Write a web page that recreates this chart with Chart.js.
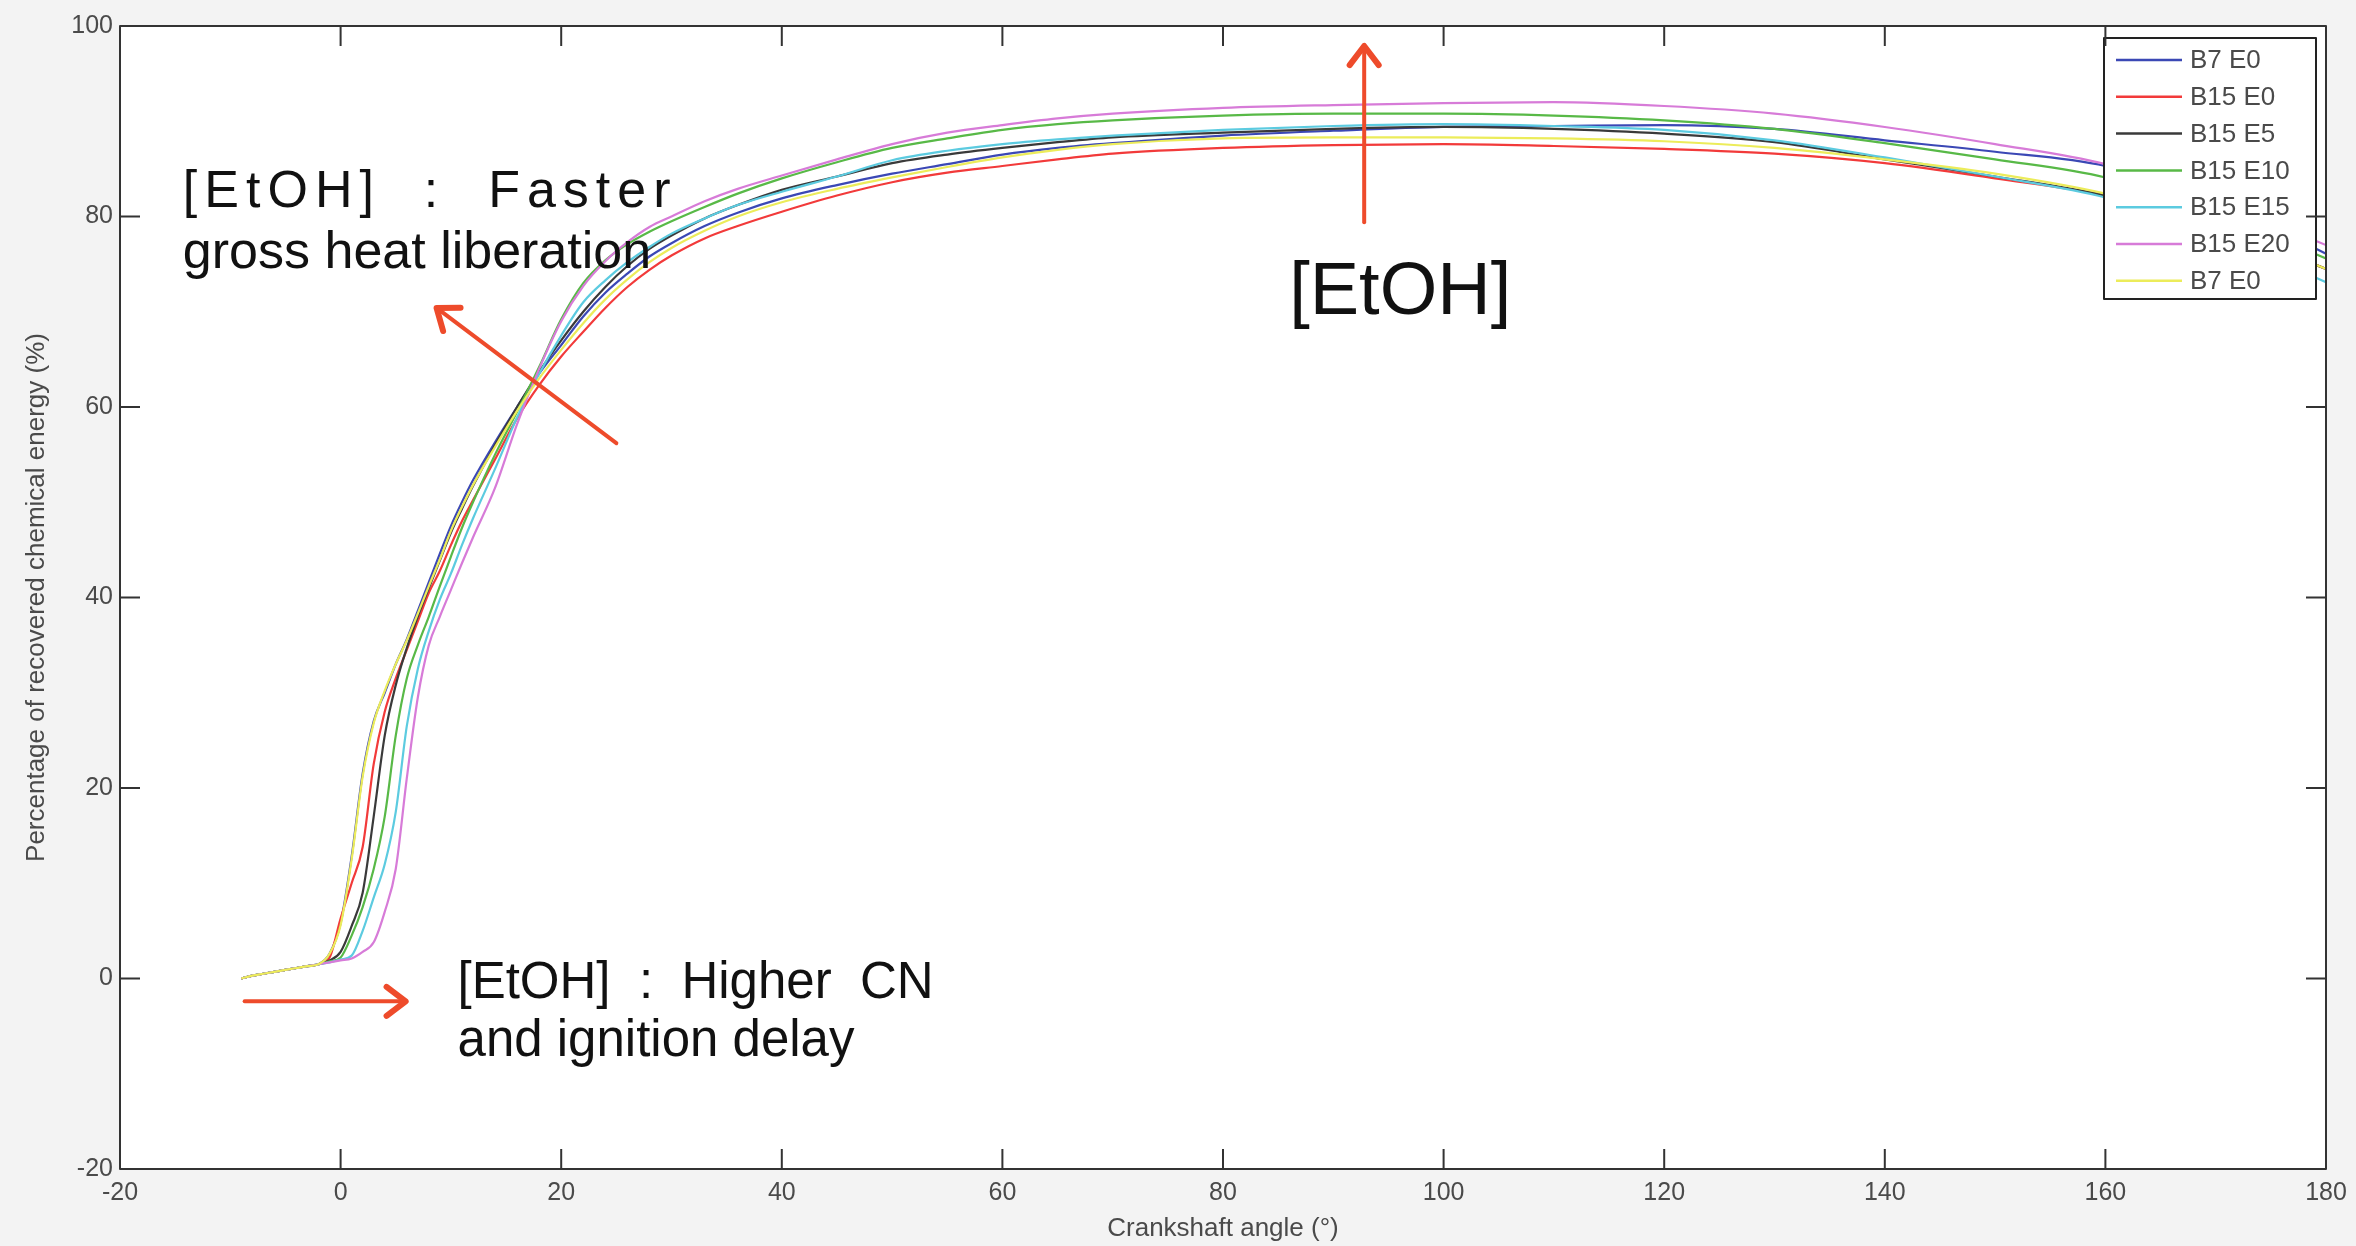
<!DOCTYPE html>
<html>
<head>
<meta charset="utf-8">
<script src="https://cdn.jsdelivr.net/npm/chart.js@4.4.1/dist/chart.umd.min.js"></script>
<style>
  html, body { margin: 0; padding: 0; background: #f3f3f3; }
  #wrap { width: 2356px; height: 1246px; position: relative; }
</style>
</head>
<body>
<div id="wrap"><canvas id="js--chart"></canvas></div>
<script>
// crank angle (deg) shared by all curves
const angles = [-9, -8, -7, -6, -5, -4, -3, -2, -1, 0, 1, 2, 3, 4, 5, 6, 7, 8, 9, 10, 11, 12,
    14, 16, 18, 20, 22, 24, 26, 28, 30,
    33, 36, 40, 45, 50, 55, 60, 65, 70,
    80, 90, 100, 110, 120, 130, 140, 150, 160, 170, 180];

const b7e0 = [0.0, 0.3, 0.5, 0.7, 0.9, 1.1, 1.3, 1.5,
    2.6, 5.8, 12.8, 21.5, 27.0, 30.0, 33.0, 35.6, 38.6, 41.6, 44.6, 47.5, 50.0, 52.3,
    56.3, 60.0, 63.5, 66.5, 69.5, 72.0, 74.0, 75.8, 77.2,
    79.0, 80.4, 81.9, 83.3, 84.5, 85.5, 86.5, 87.2, 87.7,
    88.5, 89.0, 89.4, 89.5, 89.6, 89.2, 88.0, 86.8, 85.3, 81.6, 76.1];

const b15e0 = [0.0, 0.3, 0.5, 0.7, 0.9, 1.1, 1.3, 1.5,
    2.2, 6.3, 10.0, 13.8, 22.5, 28.0, 31.5, 34.5, 37.5, 40.5, 42.8, 45.5, 48.0, 50.2,
    54.5, 58.8, 62.3, 65.3, 67.9, 70.4, 72.6, 74.4, 75.9,
    77.7, 79.0, 80.5, 82.2, 83.6, 84.6, 85.3, 86.0, 86.6,
    87.2, 87.5, 87.6, 87.4, 87.1, 86.6, 85.6, 84.0, 82.2, 79.0, 74.5];

const b15e5 = [0.0, 0.3, 0.5, 0.7, 0.9, 1.1, 1.3, 1.5,
    1.9, 2.8, 5.5, 9.0, 17.0, 25.5, 30.8, 34.7, 38.0, 41.0, 43.9, 46.8, 49.3, 51.7,
    56.0, 60.0, 63.7, 67.0, 70.0, 72.6, 74.8, 76.6, 78.0,
    79.8, 81.2, 82.8, 84.2, 85.6, 86.5, 87.2, 87.8, 88.3,
    88.8, 89.2, 89.4, 89.2, 88.7, 87.8, 86.0, 84.2, 82.2, 79.0, 74.5];

const b15e10 = [0.0, 0.3, 0.5, 0.7, 0.9, 1.1, 1.3, 1.5,
    1.8, 2.2, 4.5, 7.5, 11.5, 17.0, 25.5, 31.5, 35.0, 38.0, 41.2, 44.3, 47.3, 50.0,
    55.0, 59.5, 64.2, 69.2, 73.0, 75.4, 77.1, 78.4, 79.5,
    81.0, 82.4, 84.0, 85.7, 87.2, 88.2, 89.1, 89.7, 90.1,
    90.6, 90.8, 90.8, 90.6, 90.1, 89.2, 87.7, 86.0, 84.1, 80.5, 75.6];

const b15e15 = [0.0, 0.3, 0.5, 0.7, 0.9, 1.1, 1.3, 1.5,
    1.7, 2.0, 2.4, 5.0, 8.5, 12.0, 17.5, 26.5, 32.5, 36.5, 39.8, 42.5, 45.5, 48.3,
    53.5, 58.9, 63.5, 67.5, 71.0, 73.3, 75.2, 76.8, 78.2,
    79.8, 81.2, 82.6, 84.2, 85.9, 86.9, 87.6, 88.1, 88.5,
    89.1, 89.5, 89.7, 89.5, 89.1, 88.0, 86.2, 84.2, 82.0, 78.3, 73.1];

const b15e20 = [0.0, 0.3, 0.5, 0.7, 0.9, 1.1, 1.3, 1.5,
    1.7, 1.9, 2.1, 2.8, 3.8, 7.0, 11.5, 21.0, 29.5, 35.0, 38.0, 40.8, 43.6, 46.3,
    51.5, 58.2, 64.0, 69.0, 72.7, 75.3, 77.3, 78.9, 80.0,
    81.6, 82.9, 84.3, 86.0, 87.6, 88.8, 89.6, 90.3, 90.8,
    91.4, 91.7, 91.9, 92.0, 91.6, 90.8, 89.4, 87.6, 85.5, 81.8, 77.0];

// second "B7 E0" run (yellow)
const b7e0b = [0.0, 0.3, 0.5, 0.7, 0.9, 1.1, 1.3, 1.5,
    2.6, 5.6, 12.5, 21.2, 26.8, 30.2, 33.0, 35.5, 38.3, 41.2, 44.0, 47.0, 49.5, 51.8,
    55.8, 59.6, 63.0, 66.0, 68.8, 71.3, 73.4, 75.2, 76.7,
    78.5, 80.0, 81.5, 82.9, 84.1, 85.2, 86.2, 87.0, 87.6,
    88.2, 88.3, 88.3, 88.2, 87.9, 87.2, 86.0, 84.5, 82.4, 79.2, 74.5];

const seriesNames = ["B7 E0", "B15 E0", "B15 E5", "B15 E10", "B15 E15", "B15 E20", "B7 E0"];
const seriesValues = [b7e0, b15e0, b15e5, b15e10, b15e15, b15e20, b7e0b];
const seriesColors = ['#3b48b5', '#f23a3a', '#3a3a3a', '#58b947', '#5ccbe0', '#d77bd8', '#ecec5a'];

const xTicks = [-20, 0, 20, 40, 60, 80, 100, 120, 140, 160, 180];
const yTicks = [-20, 0, 20, 40, 60, 80, 100];

const labelFont = "'Liberation Sans', Arial, sans-serif";
const red = '#ee4b2b';

function drawArrow(ctx, x1, y1, x2, y2) {
    const ang = Math.atan2(y2 - y1, x2 - x1);
    ctx.lineWidth = 4;
    ctx.beginPath();
    ctx.moveTo(x1, y1);
    ctx.lineTo(x2, y2);
    ctx.stroke();
    ctx.lineWidth = 6;
    ctx.beginPath();
    ctx.moveTo(x2 - 24 * Math.cos(ang - 0.65), y2 - 24 * Math.sin(ang - 0.65));
    ctx.lineTo(x2, y2);
    ctx.lineTo(x2 - 24 * Math.cos(ang + 0.65), y2 - 24 * Math.sin(ang + 0.65));
    ctx.stroke();
}

const decor = {
    id: 'decor',
    beforeDraw(chart) {
        const a = chart.chartArea;
        const ctx = chart.ctx;
        ctx.save();
        ctx.fillStyle = '#ffffff';
        ctx.fillRect(a.left, a.top, a.right - a.left, a.bottom - a.top);
        ctx.restore();
    },
    afterDatasetsDraw(chart) {
        const a = chart.chartArea;
        const ctx = chart.ctx;
        const xs = chart.scales.x, ys = chart.scales.y;
        ctx.save();

        // annotations
        ctx.fillStyle = '#111';
        ctx.textBaseline = 'alphabetic';
        ctx.font = '52px ' + labelFont;
        if ('letterSpacing' in ctx) ctx.letterSpacing = '7px';
        ctx.fillText('[EtOH]  :  Faster', xs.getPixelForValue(-14.3), ys.getPixelForValue(81.0));
        if ('letterSpacing' in ctx) ctx.letterSpacing = '0px';
        ctx.fillText('gross heat liberation', xs.getPixelForValue(-14.3), ys.getPixelForValue(74.6));
        ctx.font = '74px ' + labelFont;
        ctx.fillText('[EtOH]', xs.getPixelForValue(86.0), ys.getPixelForValue(69.8));
        ctx.font = '51px ' + labelFont;
        ctx.fillText('[EtOH]  :  Higher  CN', xs.getPixelForValue(10.6), ys.getPixelForValue(-2.0));
        ctx.fillText('and ignition delay', xs.getPixelForValue(10.6), ys.getPixelForValue(-8.1));

        ctx.strokeStyle = red;
        ctx.lineCap = 'round';
        ctx.lineJoin = 'round';
        drawArrow(ctx, xs.getPixelForValue(25.0), ys.getPixelForValue(56.2), xs.getPixelForValue(8.7), ys.getPixelForValue(70.4));
        drawArrow(ctx, xs.getPixelForValue(92.8), ys.getPixelForValue(79.4), xs.getPixelForValue(92.8), ys.getPixelForValue(97.9));
        drawArrow(ctx, xs.getPixelForValue(-8.7), ys.getPixelForValue(-2.4), xs.getPixelForValue(5.9), ys.getPixelForValue(-2.4));

        // legend box
        const lw = 212, lh = 261;
        const lx = a.right - 222, ly = a.top + 12;
        ctx.fillStyle = '#ffffff';
        ctx.fillRect(lx, ly, lw, lh);
        ctx.strokeStyle = '#222';
        ctx.lineWidth = 2;
        ctx.strokeRect(lx, ly, lw, lh);
        ctx.font = '26px ' + labelFont;
        ctx.textBaseline = 'middle';
        ctx.lineCap = 'butt';
        seriesNames.forEach((name, i) => {
            const yy = ly + 22 + i * 36.8;
            ctx.strokeStyle = seriesColors[i];
            ctx.lineWidth = 2.5;
            ctx.beginPath();
            ctx.moveTo(lx + 12, yy);
            ctx.lineTo(lx + 78, yy);
            ctx.stroke();
            ctx.fillStyle = '#4a4a4a';
            ctx.fillText(name, lx + 86, yy + 1);
        });

        // axes box with inward ticks
        ctx.strokeStyle = '#333';
        ctx.lineWidth = 2;
        ctx.strokeRect(a.left, a.top, a.right - a.left, a.bottom - a.top);
        ctx.beginPath();
        xTicks.forEach(v => {
            const px = xs.getPixelForValue(v);
            ctx.moveTo(px, a.bottom); ctx.lineTo(px, a.bottom - 20);
            ctx.moveTo(px, a.top); ctx.lineTo(px, a.top + 20);
        });
        yTicks.forEach(v => {
            const py = ys.getPixelForValue(v);
            ctx.moveTo(a.left, py); ctx.lineTo(a.left + 20, py);
            ctx.moveTo(a.right, py); ctx.lineTo(a.right - 20, py);
        });
        ctx.stroke();
        ctx.restore();
    }
};

const datasets = seriesValues.map((vals, i) => ({
    label: seriesNames[i],
    data: angles.map((a, k) => ({x: a, y: vals[k]})),
    borderColor: seriesColors[i],
    backgroundColor: seriesColors[i],
    borderWidth: 2.2,
    pointRadius: 0,
    cubicInterpolationMode: 'monotone',
    fill: false,
    order: seriesValues.length - i
}));

const config = {
    type: 'line',
    data: { datasets: datasets },
    options: {
        responsive: true,
        maintainAspectRatio: false,
        devicePixelRatio: 1,
        animation: false,
        layout: { padding: { top: 26, right: 30, left: 0, bottom: 0 } },
        plugins: {
            legend: { display: false },
            tooltip: { enabled: false }
        },
        scales: {
            x: {
                type: 'linear',
                min: -20,
                max: 180,
                afterFit: s => { s.height = 77; },
                afterBuildTicks: s => { s.ticks = xTicks.map(v => ({value: v})); },
                grid: { display: false, drawTicks: false },
                border: { display: false },
                ticks: { color: '#4a4a4a', font: { size: 25, family: labelFont }, padding: 9, maxRotation: 0 },
                title: { display: true, text: 'Crankshaft angle (°)', color: '#4a4a4a',
                    font: { size: 26, family: labelFont }, padding: { top: 0, bottom: 2 } }
            },
            y: {
                min: -20,
                max: 100,
                afterFit: s => { s.width = 120; },
                afterBuildTicks: s => { s.ticks = yTicks.map(v => ({value: v})); },
                grid: { display: false, drawTicks: false },
                border: { display: false },
                ticks: { color: '#4a4a4a', font: { size: 25, family: labelFont }, padding: 7 },
                title: { display: true, text: 'Percentage of recovered chemical energy (%)', color: '#4a4a4a',
                    font: { size: 26, family: labelFont }, padding: { top: 21, bottom: 0 } }
            }
        }
    },
    plugins: [decor]
};

new Chart(document.getElementById("js--chart"), config);
</script>
</body>
</html>
